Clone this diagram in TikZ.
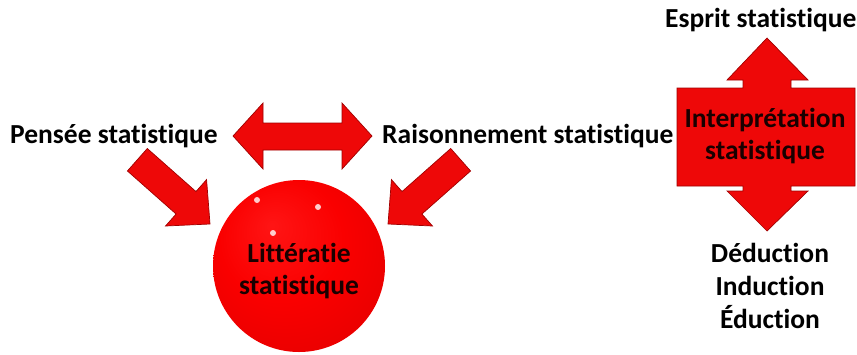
\documentclass[tikz,border=0pt]{standalone}
\usepackage{fontspec}
\setmainfont{Carlito}[Ligatures={NoCommon}]
\definecolor{arrred}{RGB}{238,8,8}
\definecolor{arredge}{RGB}{160,0,0}
\definecolor{inktxt}{RGB}{25,0,0}
\pgfdeclareradialshading{spherered}{\pgfpoint{-8bp}{12bp}}{%
  color(0bp)=(red!92!white);
  color(18bp)=(red!98!black);
  color(40bp)=(red!88!black);
  color(50bp)=(red!72!black)}
\tikzset{
  lbl/.style={font=\fontsize{27.5}{33}\selectfont\bfseries, text=black, inner sep=0pt, align=center},
  inlbl/.style={lbl, text=inktxt},
  bigarrow/.style={fill=arrred, draw=arredge, line width=0.7pt, line join=miter},
  gloss/.style={fill=white, opacity=0.8},
}
\begin{document}
\begin{tikzpicture}[x=1pt, y=-1pt]
\useasboundingbox (0,0) rectangle (857,354);

% double horizontal arrow
\path[bigarrow] (233,136) -- (263,103) -- (263,123) -- (342,123) -- (342,103)
  -- (372,136) -- (342,169) -- (342,150) -- (263,150) -- (263,169) -- cycle;

% left diagonal arrow
\begin{scope}[shift={(210,224)}, rotate=-41.5]
\path[bigarrow] (0,0) -- (-32,31) -- (-32,15) -- (-97,15) -- (-97,-15) -- (-32,-15) -- (-32,-31) -- cycle;
\end{scope}
% right diagonal arrow
\begin{scope}[shift={(388,224)}, rotate=-138.5]
\path[bigarrow] (0,0) -- (-32,31) -- (-32,15) -- (-97,15) -- (-97,-15) -- (-32,-15) -- (-32,-31) -- cycle;
\end{scope}

% sphere
\shade[shading=spherered] (299,266) circle[radius=86];
\fill[gloss] (257,200) circle[radius=3];
\fill[gloss] (318,207) circle[radius=3];
\fill[gloss] (273,233) circle[radius=3];

% up-down arrow with box
\path[bigarrow] (677,88) -- (743,88) -- (743,80) -- (727,80) -- (767,38) -- (808,80)
  -- (791,80) -- (791,88) -- (855,88) -- (855,186) -- (791,186) -- (791,191)
  -- (808,191) -- (767,231) -- (727,191) -- (743,191) -- (743,186) -- (677,186) -- cycle;

% texts
\node[lbl, anchor=base west] (pensee) at (10,143) {Pensée statistique};
\node[lbl, anchor=base west] (raison) at (382,143) {Raisonnement statistique};
\node[lbl, anchor=base west] (esprit) at (665,27) {Esprit statistique};
\node[inlbl, anchor=base] (lit1) at (299,262) {Littératie};
\node[inlbl, anchor=base] (lit2) at (299,294) {statistique};
\node[inlbl, anchor=base] (int1) at (765,127) {Interprétation};
\node[inlbl, anchor=base] (int2) at (765,159) {statistique};
\node[lbl, anchor=base] (ded) at (770,262) {Déduction};
\node[lbl, anchor=base] (ind) at (770,295) {Induction};
\node[lbl, anchor=base] (edu) at (770,328) {Éduction};
\end{tikzpicture}
\end{document}
